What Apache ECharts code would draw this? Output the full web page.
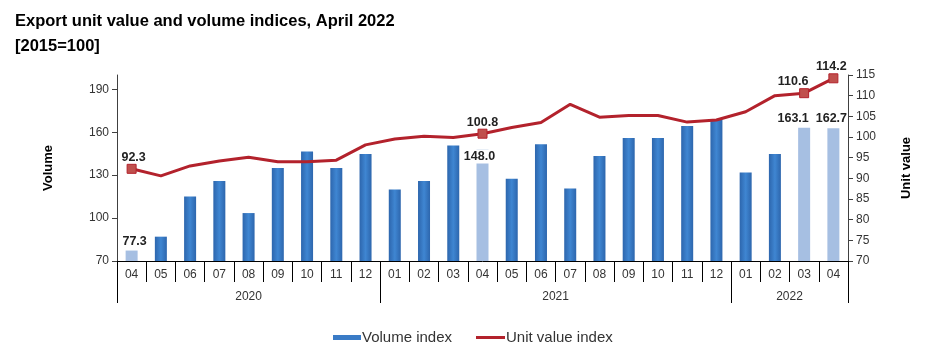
<!DOCTYPE html>
<html><head><meta charset="utf-8">
<script src="https://cdn.jsdelivr.net/npm/echarts@6/dist/echarts.min.js"></script>
<style>html,body{margin:0;padding:0;background:#fff}#c{width:927px;height:364px}</style>
</head><body><div id="c"></div>
<script>
const months = ['04','05','06','07','08','09','10','11','12','01','02','03','04','05','06','07','08','09','10','11','12','01','02','03','04'];
const years = ['2020','2021','2022'];
const yearSpans = [9, 12, 4];
const volume = [77.3, 87.0, 115.0, 126.0, 103.5, 135.0, 146.5, 135.0, 144.7, 120.0, 126.0, 150.7, 148.0, 127.4, 151.6, 120.7, 143.3, 156.0, 156.0, 164.4, 168.8, 131.9, 144.7, 163.1, 162.7];
const unitValue = [92.3, 90.6, 93.0, 94.2, 95.1, 94.0, 94.0, 94.4, 98.1, 99.5, 100.2, 99.9, 100.8, 102.3, 103.5, 107.9, 104.8, 105.2, 105.2, 103.6, 104.1, 106.1, 110.0, 110.6, 114.2];
const highlighted = [0, 12, 23, 24];
const volumeTicks = [70, 100, 130, 160, 190];

const boundaries = [0];
yearSpans.forEach(s => boundaries.push(boundaries[boundaries.length - 1] + s));
const centers = yearSpans.map((s, i) => boundaries[i] + s / 2);

const FONT = '"Liberation Sans", Arial, sans-serif';
const barGrad = new echarts.graphic.LinearGradient(0, 0, 1, 0, [
  {offset: 0, color: '#2d66ad'}, {offset: 0.5, color: '#3f86d2'}, {offset: 1, color: '#2d66ad'}
]);

// label nudges (style only)
const barLabelOffsets = {0: [3, 0], 12: [-3, 17], 23: [-11, 0], 24: [-2, 0]};
const lineLabelOffsets = {0: [2, 0], 12: [0, 0], 23: [-11, 0], 24: [-2, 0]};

const barData = volume.map((v, i) => {
  const item = {value: v};
  if (highlighted.includes(i)) {
    item.itemStyle = {color: '#a6bfe2'};
    item.label = {show: true, offset: barLabelOffsets[i]};
    if (i === 12) { item.label.backgroundColor = '#fff'; item.label.padding = [1, 1, 0, 1]; }
  }
  return item;
});
const lineData = unitValue.map((v, i) => {
  const item = {value: v};
  if (highlighted.includes(i)) {
    item.label = {show: true, offset: lineLabelOffsets[i]};
    item.symbolSize = 9;
  } else {
    item.symbolSize = 0;
  }
  return item;
});

const chart = echarts.init(document.getElementById('c'));
chart.setOption({
  animation: false,
  textStyle: {fontFamily: FONT},
  title: {
    text: 'Export unit value and volume indices, April 2022\n[2015=100]',
    left: 15, top: 9, padding: 0,
    textStyle: {fontFamily: FONT, fontSize: 16.5, fontWeight: 'bold', color: '#000', lineHeight: 25}
  },
  grid: {left: 117, right: 79, top: 75, bottom: 103, containLabel: false},
  legend: [
    {data: [{name: 'Volume index', icon: 'rect'}], left: 333, top: 330, padding: 0, itemWidth: 28, itemHeight: 5,
     itemStyle: {color: '#3a7bc6', borderWidth: 0},
     textStyle: {fontFamily: FONT, fontSize: 15, color: '#333', padding: [0, 0, 0, -4]}},
    {data: [{name: 'Unit value index', icon: 'rect'}], left: 476, top: 330, padding: 0, itemWidth: 29, itemHeight: 3,
     itemStyle: {color: '#b3222c', borderWidth: 0},
     textStyle: {fontFamily: FONT, fontSize: 15, color: '#333', padding: [0, 0, 0, -4]}}
  ],
  xAxis: [
    {
      type: 'category', data: months, position: 'bottom',
      axisLine: {show: true, lineStyle: {color: '#000', width: 1}},
      axisTick: {show: true, interval: 0, length: 21, lineStyle: {color: '#000'}},
      axisLabel: {interval: 0, margin: 8, fontSize: 12, color: '#333', fontFamily: FONT},
      splitLine: {show: false}
    },
    {
      type: 'value', min: 0, max: boundaries[boundaries.length - 1], position: 'bottom',
      axisLine: {show: false},
      splitLine: {show: false},
      axisTick: {show: true, length: 42, customValues: boundaries, lineStyle: {color: '#000'}},
      axisLabel: {show: true, customValues: centers, margin: 30, fontSize: 12, color: '#333', fontFamily: FONT,
        formatter: v => { const k = centers.indexOf(v); return k >= 0 ? years[k] : ''; }}
    }
  ],
  yAxis: [
    {
      type: 'value', min: 70, max: 200, position: 'left',
      name: 'Volume', nameLocation: 'middle', nameGap: 62, nameRotate: 90,
      nameTextStyle: {fontFamily: FONT, fontSize: 13, fontWeight: 'bold', color: '#000'},
      axisLine: {show: true, lineStyle: {color: '#404040'}},
      axisTick: {show: true, length: 5, customValues: volumeTicks, lineStyle: {color: '#404040'}},
      axisLabel: {customValues: volumeTicks, margin: 8, fontSize: 12, color: '#333', fontFamily: FONT},
      splitLine: {show: false}
    },
    {
      type: 'value', min: 70, max: 115, interval: 5, position: 'right',
      name: 'Unit value', nameLocation: 'middle', nameGap: 52, nameRotate: 90,
      nameTextStyle: {fontFamily: FONT, fontSize: 13, fontWeight: 'bold', color: '#000'},
      axisLine: {show: true, lineStyle: {color: '#404040'}},
      axisTick: {show: true, length: 5, lineStyle: {color: '#404040'}},
      axisLabel: {margin: 8, fontSize: 12, color: '#333', fontFamily: FONT},
      splitLine: {show: false}
    }
  ],
  series: [
    {
      name: 'Volume index', type: 'bar', xAxisIndex: 0, yAxisIndex: 0,
      barWidth: 12, data: barData,
      itemStyle: {color: barGrad},
      label: {show: false, position: 'top', distance: 3, fontSize: 12.5, fontWeight: 'bold', color: '#222', fontFamily: FONT,
        formatter: p => p.value.toFixed(1)},
      z: 2
    },
    {
      name: 'Unit value index', type: 'line', xAxisIndex: 0, yAxisIndex: 1,
      data: lineData, symbol: 'rect', showAllSymbol: true,
      lineStyle: {color: '#b3222c', width: 3},
      itemStyle: {color: '#c0504d', borderColor: '#b3222c', borderWidth: 1},
      label: {show: false, position: 'top', distance: 0, fontSize: 12.5, fontWeight: 'bold', color: '#222', fontFamily: FONT,
        formatter: p => p.value.toFixed(1)},
      z: 3
    }
  ]
});
</script>
</body></html>
